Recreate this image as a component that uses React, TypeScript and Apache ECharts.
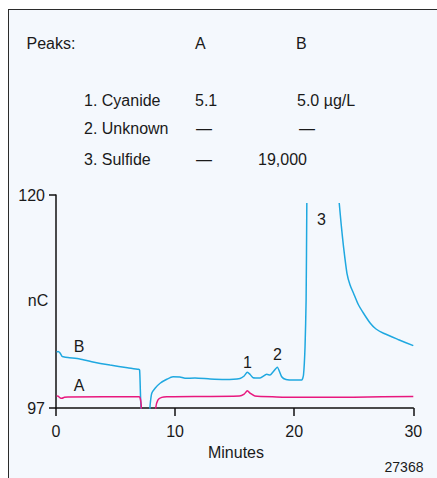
import React, { useEffect, useRef } from "react";
import * as echarts from "echarts";

const FONT = "'Liberation Sans', Arial, sans-serif";

// Trace B (blue)
const bTimes = [0.05, 0.17, 0.34, 0.5, 0.61, 1.0, 2.0, 3.0, 4.54, 6.0, 6.92, 7.02, 7.08, 7.13, 7.2, 7.8, 7.9, 8.04, 8.32, 8.74, 9.3, 9.82, 10.41, 10.83, 11.67, 12.94, 14.2, 15.45, 15.8, 16.06, 16.3, 16.55, 17.13, 17.69, 17.97, 18.22, 18.58, 18.95, 19.31, 20.07, 20.63, 20.78, 20.91, 21.0, 21.06, 22.5, 23.78, 23.95, 24.14, 24.43, 24.69, 24.98, 25.36, 25.82, 26.39, 26.87, 27.5, 28.72, 30.0];
const bValues: (number | null)[] = [103.05, 103.1, 102.94, 102.6, 102.54, 102.45, 102.29, 102.0, 101.64, 101.35, 101.18, 101.1, 99.0, 97.0, 95.5, 95.5, 97.3, 98.59, 99.13, 99.67, 100.1, 100.38, 100.35, 100.21, 100.24, 100.13, 100.08, 100.19, 100.46, 100.86, 100.62, 100.27, 100.24, 100.64, 100.56, 100.89, 101.4, 100.38, 100.08, 100.02, 100.02, 100.56, 103.62, 108.66, 119.14, null, 119.14, 116.76, 114.42, 111.55, 110.28, 109.39, 108.23, 107.23, 106.15, 105.53, 105.07, 104.4, 103.73];

// Trace A (magenta)
const aTimes = [0.05, 0.17, 0.34, 0.5, 0.7, 1.0, 7.0, 7.08, 7.15, 7.22, 8.3, 8.37, 8.55, 8.88, 9.3, 15.4, 15.8, 16.06, 16.35, 16.7, 18.5, 20.0, 25.0, 30.0];
const aValues = [98.3, 98.28, 98.1, 98.05, 98.15, 98.18, 98.22, 98.0, 97.4, 95.5, 95.5, 97.0, 97.86, 98.15, 98.22, 98.3, 98.5, 98.85, 98.55, 98.3, 98.2, 98.15, 98.17, 98.25];

const yTickValues = [97, 120];
const xTickValues = [0, 10, 20, 30];

const peakHeader = ["Peaks:", "A", "B"];
const peakNames = ["1. Cyanide", "2. Unknown", "3. Sulfide"];
const peakA = ["5.1", "—", "—"];
const peakB = ["5.0 µg/L", "—", "19,000"];

export default function App() {
  const ref = useRef<HTMLDivElement>(null);
  useEffect(() => {
    if (!ref.current) return;
    const chart = echarts.init(ref.current, null, { renderer: "svg" });
    const txt = (text: string, x: number, y: number, align = "left", size = 16) => ({
      type: "text",
      x,
      y,
      style: { text, fill: "#1a1a1a", font: `${size}px ${FONT}`, align, verticalAlign: "middle" },
    });
    const rowsY = [100, 128.3, 159.3];
    const graphics: any[] = [
      txt(peakHeader[0], 26.5, 43),
      txt(peakHeader[1], 195, 43),
      txt(peakHeader[2], 296, 43),
    ];
    peakNames.forEach((n, i) => graphics.push(txt(n, 84, rowsY[i])));
    const aX = [195, 196, 196];
    const bX = [297, 299, 258];
    peakA.forEach((n, i) => graphics.push(txt(n, aX[i], rowsY[i])));
    peakB.forEach((n, i) => graphics.push(txt(n, bX[i], rowsY[i])));
    graphics.push(txt("B", 79, 346, "center"));
    graphics.push(txt("A", 79, 385, "center"));
    graphics.push(txt("1", 247.5, 362, "center"));
    graphics.push(txt("2", 277.5, 354, "center"));
    graphics.push(txt("3", 321.5, 219, "center"));
    graphics.push(txt("nC", 38, 300, "center"));
    graphics.push(txt("Minutes", 236, 452, "center"));
    graphics.push(txt("27368", 404, 467, "center", 14));

    chart.setOption({
      animation: false,
      backgroundColor: "transparent",
      grid: { left: 56, right: 23.7, top: 195, bottom: 70, containLabel: false },
      xAxis: {
        type: "value",
        min: 0,
        max: 30,
        interval: 10,
        axisLine: { lineStyle: { color: "#111", width: 1.5 } },
        axisTick: { show: true, length: 8, lineStyle: { color: "#111", width: 1.5 }, customValues: xTickValues },
        axisLabel: { fontSize: 16, fontFamily: FONT, color: "#1a1a1a", margin: 15, customValues: xTickValues },
        splitLine: { show: false },
      },
      yAxis: {
        type: "value",
        min: 97,
        max: 120,
        axisLine: { show: true, lineStyle: { color: "#111", width: 1.5 } },
        axisTick: { show: true, length: 7, lineStyle: { color: "#111", width: 1.5 }, customValues: yTickValues },
        axisLabel: { fontSize: 16, fontFamily: FONT, color: "#1a1a1a", margin: 11, customValues: yTickValues },
        splitLine: { show: false },
      },
      graphic: graphics,
      series: [
        {
          type: "line",
          name: "B",
          data: bTimes.map((t, i) => [t, bValues[i] === null ? "-" : bValues[i]]),
          showSymbol: false,
          connectNulls: false,
          clip: true,
          smooth: 0.2,
          lineStyle: { color: "#1fa8e0", width: 1.5 },
          itemStyle: { color: "#1fa8e0" },
        },
        {
          type: "line",
          name: "A",
          data: aTimes.map((t, i) => [t, aValues[i]]),
          showSymbol: false,
          clip: true,
          smooth: 0.2,
          lineStyle: { color: "#e8187e", width: 1.5 },
          itemStyle: { color: "#e8187e" },
        },
      ],
    });
    return () => chart.dispose();
  }, []);

  return (
    <div style={{ position: "fixed", left: 0, top: 0, width: 437, height: 478, background: "#fff", overflow: "hidden" }}>
      <div
        style={{
          position: "absolute",
          left: 8,
          top: 9,
          width: 440,
          height: 480,
          background: "#f4f8fd",
          borderLeft: "1.5px solid #2b2b2b",
          borderTop: "1.5px solid #2b2b2b",
        }}
      />
      <div ref={ref} style={{ position: "absolute", left: 0, top: 0, width: 437, height: 478 }} />
    </div>
  );
}
